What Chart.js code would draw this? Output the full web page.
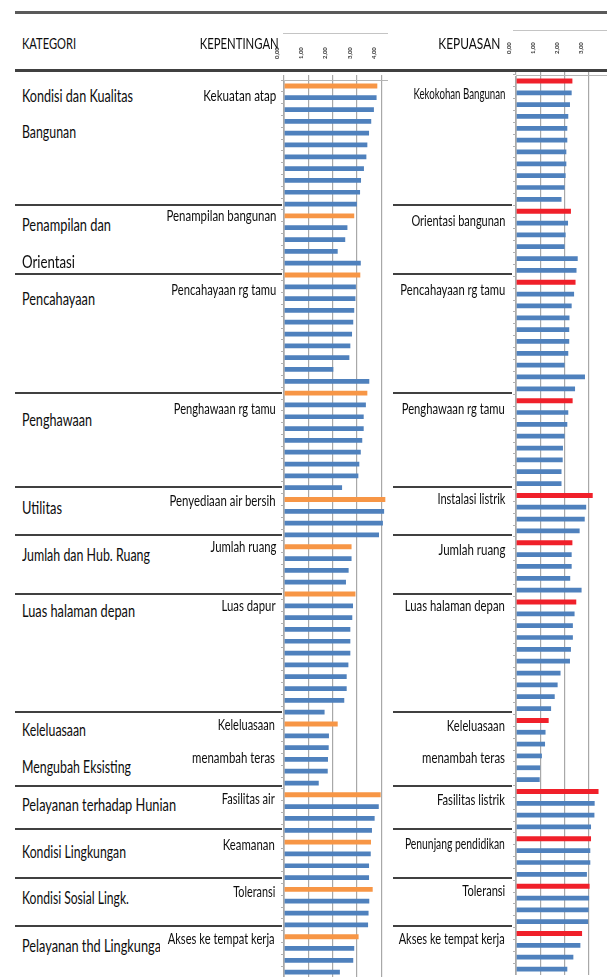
<!DOCTYPE html>
<html><head><meta charset="utf-8">
<script src="https://cdn.jsdelivr.net/npm/chart.js@4.4.1/dist/chart.umd.min.js"></script>
<style>
html,body{margin:0;padding:0;background:#fff;}
body{width:607px;height:977px;overflow:hidden;position:relative;}
.t{position:absolute;white-space:nowrap;font-family:Lato,'Open Sans',sans-serif;color:#0d0d0d;line-height:1;}
.ln{position:absolute;}
.wrap{position:absolute;}
</style></head><body>
<div id="leftWrap" class="wrap" style="left:270px;top:22px;width:118px;height:956px;"><canvas id="cL"></canvas></div>
<div id="rightWrap" class="wrap" style="left:502px;top:17px;width:105px;height:958px;"><canvas id="cR"></canvas></div>
<script>
// ---------- DATA ----------
const categories = ['Kondisi dan Kualitas Bangunan','Penampilan dan Orientasi','Pencahayaan','Penghawaan','Utilitas','Jumlah dan Hub. Ruang','Luas halaman depan','Keleluasaan Mengubah Eksisting','Pelayanan terhadap Hunian','Kondisi Lingkungan','Kondisi Sosial Lingk.','Pelayanan thd Lingkungan'];
const kepentinganLabels = ['Kekuatan atap','Penampilan bangunan','Pencahayaan rg tamu','Penghawaan rg tamu','Penyediaan air bersih','Jumlah ruang','Luas dapur','Keleluasaan menambah teras','Fasilitas air','Keamanan','Toleransi','Akses ke tempat kerja'];
const kepuasanLabels = ['Kekokohan Bangunan','Orientasi bangunan','Pencahayaan rg tamu','Penghawaan rg tamu','Instalasi listrik','Jumlah ruang','Luas halaman depan','Keleluasaan menambah teras','Fasilitas listrik','Penunjang pendidikan','Toleransi','Akses ke tempat kerja'];
const xTickValues = [0,1,2,3,4];

// KEPENTINGAN values per category (first value = highlighted item)
const kepBangunan   = [3.84,3.81,3.70,3.59,3.50,3.43,3.39,3.29,3.17,3.13,3.00];
const kepPenampilan = [2.89,2.61,2.52,2.21,3.16];
const kepCahaya     = [3.14,2.96,2.94,2.89,2.85,2.80,2.73,2.69,2.03,3.51];
const kepHawa       = [3.43,3.37,3.28,3.28,3.22,3.16,3.10,3.06,2.39];
const kepUtilitas   = [4.17,4.12,4.07,3.91];
const kepJumlah     = [2.78,2.78,2.66,2.55];
const kepLuas       = [2.94,2.84,2.81,2.73,2.73,2.73,2.65,2.58,2.58,2.48,1.67];
const kepKeleluasaan= [2.21,1.85,1.84,1.81,1.80,1.43];
const kepHunian     = [3.98,3.90,3.73,3.62];
const kepLingkungan = [3.58,3.57,3.50,3.50];
const kepSosial     = [3.65,3.51,3.48,3.46];
const kepPelLingk   = [3.07,2.89,2.85,2.30];

// KEPUASAN values per category (first value = highlighted item)
const puasBangunan   = [2.33,2.30,2.23,2.16,2.12,2.12,2.08,2.08,2.05,2.01,1.88];
const puasOrientasi  = [2.27,2.15,2.05,2.01,2.55,2.50];
const puasCahaya     = [2.46,2.40,2.30,2.21,2.20,2.20,2.16,2.01,2.85,2.44];
const puasHawa       = [2.34,2.16,2.12,2.01,1.94,1.93,1.88,1.88];
const puasUtilitas   = [3.17,2.90,2.84,2.63];
const puasJumlah     = [2.33,2.30,2.30,2.24,2.71];
const puasLuas       = [2.49,2.42,2.35,2.35,2.27,2.23,1.84,1.72,1.60,1.45];
const puasKeleluasaan= [1.35,1.22,1.20,1.07,1.00,0.98];
const puasHunian     = [3.41,3.25,3.24,3.10];
const puasLingkungan = [3.10,3.07,3.07,2.93];
const puasSosial     = [3.04,3.02,3.00,2.98];
const puasPelLingk   = [2.73,2.66,2.37,2.12];

const kepGroups = [kepBangunan,kepPenampilan,kepCahaya,kepHawa,kepUtilitas,kepJumlah,kepLuas,kepKeleluasaan,kepHunian,kepLingkungan,kepSosial,kepPelLingk];
const puasGroups = [puasBangunan,puasOrientasi,puasCahaya,puasHawa,puasUtilitas,puasJumlah,puasLuas,puasKeleluasaan,puasHunian,puasLingkungan,puasSosial,puasPelLingk];

// ---------- build datasets ----------
function build(groups, names){
  const labels=[], hi=[], lo=[];
  groups.forEach((g,gi)=>{
    g.forEach((v,i)=>{
      labels.push(i===0 ? names[gi] : names[gi]+' ('+(i+1)+')');
      hi.push(i===0 ? v : null);
      lo.push(i===0 ? null : v);
    });
  });
  return {labels, hi, lo};
}

function makeChart(id, groups, names, hiColor, maxVal){
  const d = build(groups, names);
  return new Chart(document.getElementById(id), {
    type:'bar',
    data:{labels:d.labels, datasets:[
      {data:d.hi, backgroundColor:hiColor, grouped:false, barPercentage:0.42, categoryPercentage:1},
      {data:d.lo, backgroundColor:'#4F81BD', grouped:false, barPercentage:0.40, categoryPercentage:1}
    ]},
    options:{
      indexAxis:'y', responsive:true, maintainAspectRatio:false, animation:false,
      layout:{padding:0},
      plugins:{legend:{display:false}, tooltip:{enabled:false}},
      scales:{
        x:{position:'top', min:0, max:maxVal,
           afterBuildTicks:s=>{ s.ticks = xTickValues.filter(v=>v<=maxVal).map(v=>({value:v})); },
           afterFit:s=>{ s.height=58; s.paddingLeft=0; s.paddingRight=0; },
           ticks:{font:{size:6, family:'Lato', weight:'bold'}, color:'#333', minRotation:90, maxRotation:90, padding:16,
                  callback:v=>v.toFixed(2).replace('.',',')},
           grid:{color:'#a8a8a8', lineWidth:1.2, tickLength:5},
           border:{color:'#b5b5b5'}},
        y:{ticks:{display:false},
           afterFit:s=>{ s.width=14; s.paddingTop=0; s.paddingBottom=0; },
           grid:{drawOnChartArea:false, tickLength:3, color:'#b0b0b0', offset:true},
           border:{color:'#c0c0c0'}}
      }
    }
  });
}

// ---------- table lines ----------
const lineSpecs = [
  {x1:15,x2:607,y:11,h:3,c:'#5a5a5a'},
  {x1:15,x2:607,y:69,h:3,c:'#404040'},
  {x1:283,x2:388,y:33,h:1,c:'#c4c4c4'},
  {x1:513,x2:607,y:30,h:1,c:'#c4c4c4'}
];
const rowLineY = [204,273,392,486,534,593,711,785,828,877,925];
rowLineY.forEach(y=>{
  lineSpecs.push({x1:15,x2:282,y:y,h:2,c:'#404040'});
  lineSpecs.push({x1:393,x2:512,y:y,h:2,c:'#404040'});
});
lineSpecs.forEach(l=>{
  const e=document.createElement('div'); e.className='ln';
  e.style.left=l.x1+'px'; e.style.width=(l.x2-l.x1)+'px';
  e.style.top=l.y+'px'; e.style.height=l.h+'px'; e.style.background=l.c;
  document.body.appendChild(e);
});

// ---------- texts ----------
const CF=17, SF=15;
const textSpecs = [
  {s:'KATEGORI', x:22, y:45, w:54, fs:16, a:'l'},
  {s:'KEPENTINGAN', x:279, y:45, w:79, fs:16, a:'r'},
  {s:'KEPUASAN', x:500, y:45, w:62, fs:16, a:'r'},

  {s:'Kondisi dan Kualitas', x:22, y:97, w:111, fs:CF, a:'l'},
  {s:'Bangunan', x:22, y:133, w:54, fs:CF, a:'l'},
  {s:'Penampilan dan', x:22, y:226, w:89, fs:CF, a:'l'},
  {s:'Orientasi', x:22, y:263, w:53, fs:CF, a:'l'},
  {s:'Pencahayaan', x:22, y:300, w:73, fs:CF, a:'l'},
  {s:'Penghawaan', x:22, y:421, w:70, fs:CF, a:'l'},
  {s:'Utilitas', x:22, y:509, w:40, fs:CF, a:'l'},
  {s:'Jumlah dan Hub. Ruang', x:22, y:556, w:128, fs:CF, a:'l'},
  {s:'Luas halaman depan', x:22, y:612, w:113, fs:CF, a:'l'},
  {s:'Keleluasaan', x:22, y:731, w:64, fs:CF, a:'l'},
  {s:'Mengubah Eksisting', x:22, y:768, w:109, fs:CF, a:'l'},
  {s:'Pelayanan  terhadap Hunian', x:22, y:806, w:154, fs:CF, a:'l'},
  {s:'Kondisi Lingkungan', x:22, y:853, w:104, fs:CF, a:'l'},
  {s:'Kondisi Sosial Lingk.', x:22, y:899, w:107, fs:CF, a:'l'},
  {s:'Pelayanan thd Lingkungan', x:22, y:947, w:146, fs:CF, a:'l', clip:160},

  {s:'Kekuatan atap', x:276, y:97, w:73, fs:SF, a:'r'},
  {s:'Penampilan bangunan', x:276, y:217, w:110, fs:SF, a:'r'},
  {s:'Pencahayaan rg tamu', x:276, y:291, w:105, fs:SF, a:'r'},
  {s:'Penghawaan rg tamu', x:276, y:410, w:102, fs:SF, a:'r'},
  {s:'Penyediaan air bersih', x:276, y:502, w:106, fs:SF, a:'r'},
  {s:'Jumlah ruang', x:276, y:548, w:66, fs:SF, a:'r'},
  {s:'Luas dapur', x:276, y:607, w:54, fs:SF, a:'r'},
  {s:'Keleluasaan', x:275, y:726, w:57, fs:SF, a:'r'},
  {s:'menambah teras', x:275, y:759, w:83, fs:SF, a:'r'},
  {s:'Fasilitas air', x:275, y:800, w:53, fs:SF, a:'r'},
  {s:'Keamanan', x:275, y:846, w:52, fs:SF, a:'r'},
  {s:'Toleransi', x:275, y:893, w:42, fs:SF, a:'r'},
  {s:'Akses ke tempat kerja', x:275, y:940, w:107, fs:SF, a:'r'},

  {s:'Kekokohan Bangunan', x:505, y:95, w:92, fs:SF, a:'r'},
  {s:'Orientasi bangunan', x:505, y:222, w:94, fs:SF, a:'r'},
  {s:'Pencahayaan rg tamu', x:505, y:291, w:105, fs:SF, a:'r'},
  {s:'Penghawaan rg tamu', x:505, y:410, w:103, fs:SF, a:'r'},
  {s:'Instalasi listrik', x:505, y:500, w:68, fs:SF, a:'r'},
  {s:'Jumlah ruang', x:505, y:551, w:67, fs:SF, a:'r'},
  {s:'Luas halaman depan', x:505, y:607, w:100, fs:SF, a:'r'},
  {s:'Keleluasaan', x:505, y:727, w:58, fs:SF, a:'r'},
  {s:'menambah teras', x:505, y:759, w:83, fs:SF, a:'r'},
  {s:'Fasilitas listrik', x:505, y:801, w:68, fs:SF, a:'r'},
  {s:'Penunjang pendidikan', x:505, y:845, w:100, fs:SF, a:'r'},
  {s:'Toleransi', x:505, y:892, w:43, fs:SF, a:'r'},
  {s:'Akses ke tempat kerja', x:505, y:940, w:106, fs:SF, a:'r'}
];
textSpecs.forEach(t=>{
  const d=document.createElement('div'); d.className='t';
  d.textContent=t.s; d.style.fontSize=t.fs+'px';
  const top=(t.y - t.fs*0.6);
  let host=document.body;
  if(t.clip){
    const c=document.createElement('div');
    c.style.position='absolute'; c.style.overflow='hidden';
    c.style.left=t.x+'px'; c.style.width=(t.clip-t.x)+'px';
    c.style.top=(top-4)+'px'; c.style.height=(t.fs+10)+'px';
    document.body.appendChild(c); host=c;
    d.style.left='0px'; d.style.top='4px'; d.style.transformOrigin='left center';
  } else if(t.a==='r'){
    d.style.right=(607-t.x)+'px'; d.style.top=top+'px'; d.style.transformOrigin='right center';
  } else {
    d.style.left=t.x+'px'; d.style.top=top+'px'; d.style.transformOrigin='left center';
  }
  host.appendChild(d);
  const w=d.getBoundingClientRect().width;
  d.style.transform='scaleX('+(t.w/w).toFixed(3)+')';
});

// ---------- charts ----------
makeChart('cL', kepGroups, kepentinganLabels, '#F79646', 4.28);
makeChart('cR', puasGroups, kepuasanLabels, '#F0202A', 3.76);
</script>
</body></html>
